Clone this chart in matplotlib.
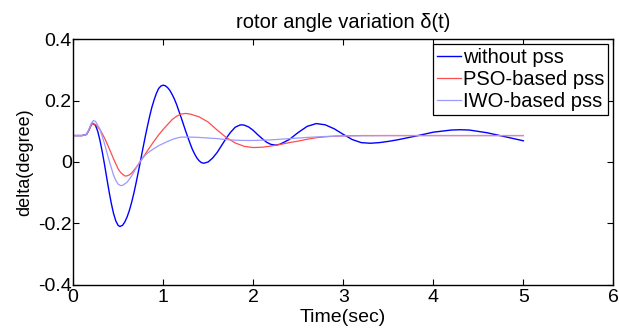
import matplotlib.pyplot as plt

plt.rcParams['font.family'] = ['Liberation Sans', 'DejaVu Sans']

# without pss
t_nopss = [0, 0.1, 0.15, 0.175, 0.2, 0.215, 0.25, 0.275, 0.3, 0.325, 0.35, 0.375, 0.4, 0.425,
           0.45, 0.475, 0.5, 0.52, 0.55, 0.575, 0.6, 0.625, 0.65, 0.675, 0.7, 0.725, 0.75,
           0.775, 0.8, 0.825, 0.85, 0.875, 0.9, 0.925, 0.95, 0.975, 1.0, 1.025, 1.05, 1.075,
           1.1, 1.125, 1.15, 1.175, 1.2, 1.225, 1.25, 1.275, 1.3, 1.325, 1.35, 1.375, 1.4,
           1.425, 1.45, 1.5, 1.55, 1.6, 1.65, 1.7, 1.75, 1.8, 1.85, 1.87, 1.9, 1.95, 2.0,
           2.05, 2.1, 2.15, 2.2, 2.25, 2.3, 2.4, 2.5, 2.6, 2.7, 2.8, 2.9, 3.0, 3.1, 3.2, 3.3,
           3.4, 3.5, 3.6, 3.8, 4.0, 4.2, 4.3, 4.4, 4.6, 4.8, 5.0]
d_nopss = [0.086, 0.086, 0.090, 0.103, 0.120, 0.127, 0.119, 0.099, 0.069, 0.032, -0.009,
           -0.053, -0.096, -0.135, -0.168, -0.192, -0.206, -0.210, -0.206, -0.195, -0.179,
           -0.158, -0.132, -0.102, -0.068, -0.032, 0.005, 0.043, 0.080, 0.115, 0.148, 0.178,
           0.202, 0.223, 0.239, 0.247, 0.250, 0.248, 0.242, 0.233, 0.220, 0.205, 0.187,
           0.166, 0.145, 0.123, 0.101, 0.080, 0.060, 0.041, 0.026, 0.013, 0.004, -0.002,
           -0.004, 0.000, 0.013, 0.031, 0.054, 0.077, 0.097, 0.113, 0.120, 0.121, 0.120,
           0.114, 0.103, 0.089, 0.076, 0.064, 0.057, 0.055, 0.058, 0.073, 0.096, 0.116,
           0.125, 0.121, 0.108, 0.090, 0.073, 0.063, 0.061, 0.063, 0.067, 0.072, 0.084,
           0.097, 0.104, 0.105, 0.104, 0.095, 0.082, 0.069]

# PSO-based pss
t_pso = [0, 0.1, 0.15, 0.175, 0.2, 0.215, 0.25, 0.3, 0.35, 0.4, 0.45, 0.5, 0.525, 0.55, 0.58,
         0.6, 0.625, 0.65, 0.7, 0.75, 0.8, 0.85, 0.9, 0.95, 1.0, 1.05, 1.1, 1.15, 1.2, 1.25,
         1.3, 1.4, 1.5, 1.6, 1.7, 1.8, 1.9, 2.0, 2.1, 2.2, 2.3, 2.4, 2.5, 2.6, 2.7, 2.8, 2.9,
         3.0, 3.2, 4.0, 5.0]
d_pso = [0.086, 0.086, 0.089, 0.102, 0.118, 0.125, 0.122, 0.105, 0.078, 0.045, 0.010, -0.022,
         -0.033, -0.040, -0.046, -0.045, -0.042, -0.036, -0.018, 0.003, 0.025, 0.047, 0.068,
         0.088, 0.106, 0.122, 0.138, 0.149, 0.156, 0.158, 0.156, 0.147, 0.130, 0.104, 0.080,
         0.062, 0.051, 0.047, 0.048, 0.052, 0.057, 0.063, 0.068, 0.074, 0.079, 0.082, 0.084,
         0.085, 0.086, 0.086, 0.086]

# IWO-based pss
t_iwo = [0, 0.1, 0.15, 0.175, 0.2, 0.226, 0.25, 0.3, 0.35, 0.4, 0.45, 0.475, 0.5, 0.53, 0.55,
         0.6, 0.65, 0.7, 0.75, 0.8, 0.85, 0.9, 0.95, 1.0, 1.05, 1.1, 1.15, 1.2, 1.3, 1.4, 1.5,
         1.6, 1.7, 1.8, 1.9, 2.0, 2.2, 2.4, 2.6, 2.8, 3.0, 3.5, 5.0]
d_iwo = [0.086, 0.086, 0.090, 0.105, 0.124, 0.135, 0.132, 0.106, 0.059, 0.005, -0.043, -0.060,
         -0.072, -0.077, -0.076, -0.066, -0.046, -0.020, 0.004, 0.022, 0.034, 0.044, 0.053,
         0.060, 0.067, 0.073, 0.078, 0.081, 0.081, 0.080, 0.078, 0.076, 0.073, 0.071, 0.070,
         0.070, 0.072, 0.076, 0.080, 0.083, 0.085, 0.086, 0.086]

x_ticks = [0, 1, 2, 3, 4, 5, 6]
y_ticks = [-0.4, -0.2, 0, 0.2, 0.4]
y_labels = ['-0.4', '-0.2', '0', '0.2', '0.4']

fig = plt.figure(figsize=(6.19, 3.34), dpi=100)
ax = fig.add_axes([0.118, 0.147, 0.873, 0.736])

ax.plot(t_nopss, d_nopss, color='#0000ff', lw=1.0, label='without pss')
ax.plot(t_pso, d_pso, color='#ff4c4c', lw=0.9, label='PSO-based pss')
ax.plot(t_iwo, d_iwo, color='#9a9aff', lw=0.9, label='IWO-based pss')

ax.set_xlim(0, 6)
ax.set_ylim(-0.4, 0.4)
ax.set_xticks(x_ticks)
ax.set_xticklabels([str(v) for v in x_ticks])
ax.set_yticks(y_ticks)
ax.set_yticklabels(y_labels)
ax.tick_params(direction='in', top=True, right=True, labelsize=14, length=4, pad=1)
ax.tick_params(axis='x', pad=3)
for s in ax.spines.values():
    s.set_linewidth(1.0)

ax.set_title('rotor angle variation δ(t)', fontsize=14.5, pad=8)
ax.set_xlabel('Time(sec)', fontsize=14, labelpad=2)
ax.set_ylabel('delta(degree)', fontsize=13, labelpad=3)

leg = ax.legend(loc='upper right', fontsize=14.5, fancybox=False, edgecolor='black',
                framealpha=1, handlelength=1.2, handletextpad=0.1, borderpad=0.2,
                labelspacing=0.15, borderaxespad=0.25)
leg.get_frame().set_linewidth(0.9)

fig.savefig('out.png', dpi=100)
